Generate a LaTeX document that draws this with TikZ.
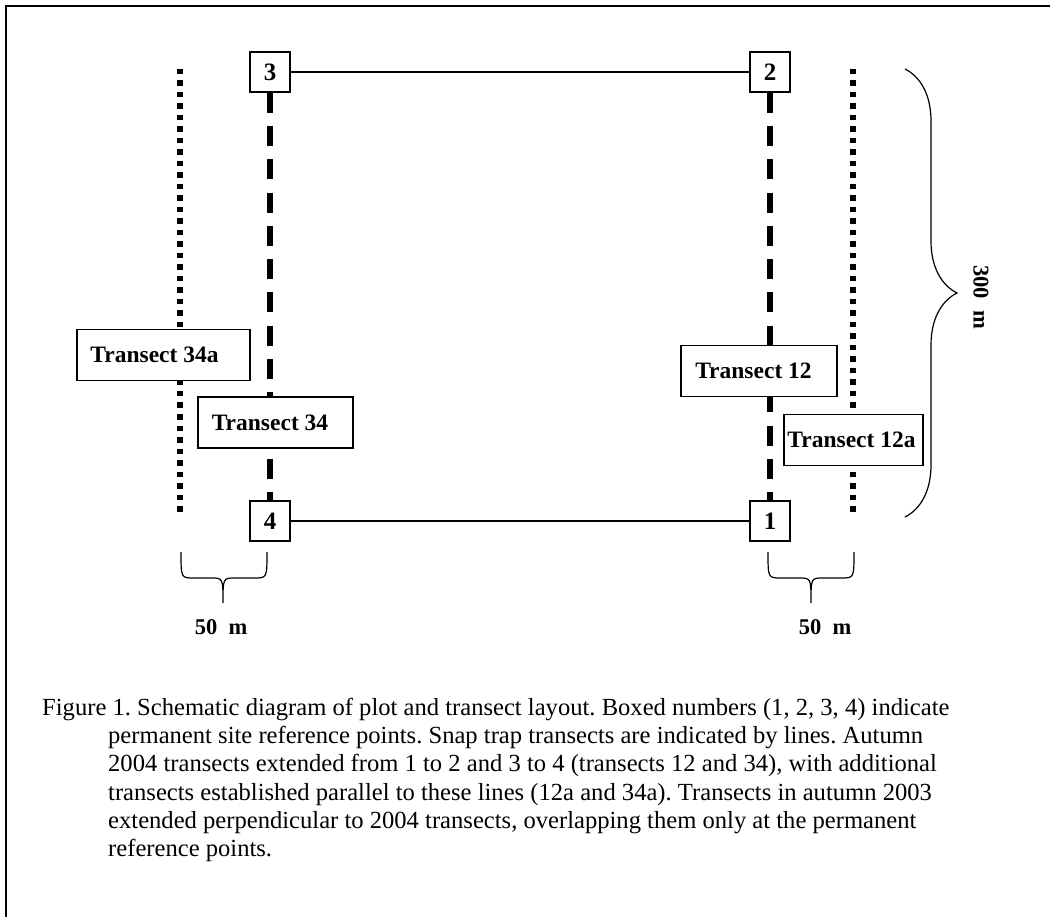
\documentclass[tikz,border=0pt]{standalone}
\usepackage{fontspec}
\setmainfont{Liberation Serif}
\usetikzlibrary{decorations.pathreplacing}

% curly brace that opens downwards: left x, right x, tip x
\newcommand{\bracedown}[3]{%
  \draw[line width=1.2pt] (#1,552) .. controls (#1,578) .. (#1+13,578) -- (#3-12,578)
    .. controls (#3,578) .. (#3,603) .. controls (#3,578) .. (#3+12,578)
    -- (#2-13,578) .. controls (#2,578) .. (#2,552);}

\begin{document}
\begin{tikzpicture}[x=1pt,y=-1pt,
  refpt/.style={draw,fill=white,line width=1.3pt,minimum size=40pt,inner sep=0pt,
    font=\fontsize{25}{25}\selectfont\bfseries},
  tbox/.style={draw,fill=white,line width=1.3pt,minimum height=51pt,inner sep=0pt,
    font=\fontsize{23.5}{23.5}\selectfont\bfseries},
  dashline/.style={line width=5.5pt,dash pattern=on 20pt off 13.3pt},
  dotline/.style={line width=6pt,dash pattern=on 5.5pt off 6pt},
  bigbrace/.style={decorate,decoration={brace,amplitude=52pt},line width=1.2pt}]
\useasboundingbox (0,0) rectangle (1050,917);
\draw[line width=2.2pt] (6,917) -- (6,6) -- (1050,6);

% reference points
\node[refpt] (P3) at (270,72) {3};
\node[refpt] (P2) at (770,72) {2};
\node[refpt] (P4) at (270,521) {4};
\node[refpt] (P1) at (770,521) {1};
\draw[line width=1.2pt] (P3) -- (P2);
\draw[line width=1.2pt] (P4) -- (P1);

% transects
\coordinate (A34t) at (180,69);
\coordinate (A34b) at (180,512);
\coordinate (A12t) at (853,69);
\coordinate (A12b) at (853,512);
\draw[dotline] (A34t) -- (A34b);
\draw[dotline] (A12t) -- (A12b);
\draw[dashline] (P3.south) -- (P4.north);
\draw[dashline] (P2.south) -- (P1.north);

\node[tbox,minimum width=173pt] (T34a) at (163.5,355) {Transect 34a\hspace*{18pt}};
\node[tbox,minimum width=155pt] (T34) at (275.5,422.5) {Transect 34\hspace*{11pt}};
\node[tbox,minimum width=156pt] (T12) at (759,371) {Transect 12\hspace*{11pt}};
\node[tbox,minimum width=139pt] (T12a) at (853.5,440) {Transect 12a\hspace*{4pt}};

% distances
\draw[bigbrace] (905,69) -- (905,517);
\node[rotate=-90,font=\fontsize{22.5}{22.5}\selectfont\bfseries] (L300) at (981,297) {300\ \ m};
\bracedown{181}{267}{223}
\bracedown{768}{854}{811}
\node[font=\fontsize{22.5}{22.5}\selectfont\bfseries] (L50a) at (221,627) {50\ \ m};
\node[font=\fontsize{22.5}{22.5}\selectfont\bfseries] (L50b) at (825,627) {50\ \ m};

% caption
\node[anchor=north west,inner sep=0pt,align=left,font=\frenchspacing\fontsize{24.6}{28.2}\selectfont] (cap) at (42,698)
  {Figure 1. Schematic diagram of plot and transect layout. Boxed numbers (1, 2, 3, 4) indicate\\
   \hspace*{66pt}permanent site reference points. Snap trap transects are indicated by lines. Autumn\\
   \hspace*{66pt}2004 transects extended from 1 to 2 and 3 to 4 (transects 12 and 34), with additional\\
   \hspace*{66pt}transects established parallel to these lines (12a and 34a). Transects in autumn 2003\\
   \hspace*{66pt}extended perpendicular to 2004 transects, overlapping them only at the permanent\\
   \hspace*{66pt}reference points.};
\end{tikzpicture}
\end{document}
